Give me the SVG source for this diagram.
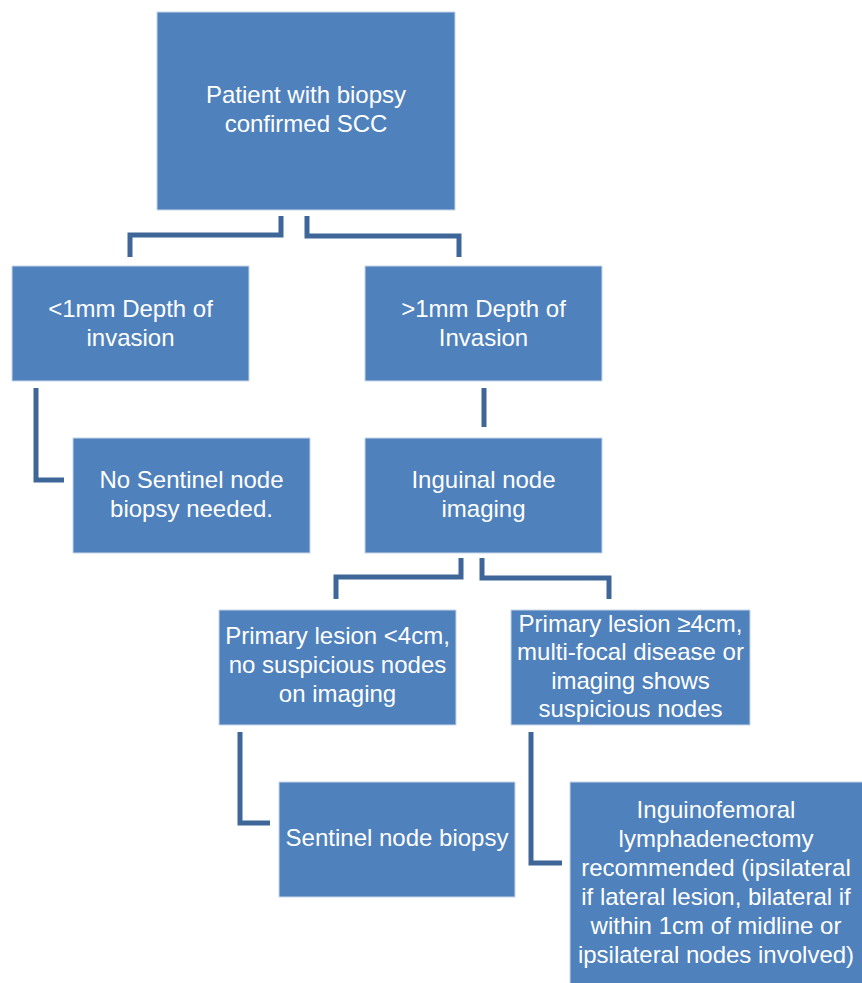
<svg xmlns="http://www.w3.org/2000/svg" width="862" height="983" viewBox="0 0 862 983">
<style>
.box{fill:#4f81bd;stroke:#c9d6e8;stroke-width:1}
.t{font-family:"Liberation Sans",Arial,sans-serif;font-size:24px;fill:#ffffff;text-anchor:middle}
.c{fill:none;stroke:#3e6699;stroke-width:5;stroke-linejoin:miter}
</style>
<rect width="862" height="983" fill="#ffffff"/>
<g id="connectors">
<path class="c" d="M281 216V235H130V257"/>
<path class="c" d="M307 216V236H459V257"/>
<path class="c" d="M36 388V480H64"/>
<path class="c" d="M484 388V427"/>
<path class="c" d="M461 558V577H336V599"/>
<path class="c" d="M482 558V578H609V599"/>
<path class="c" d="M240 732V823H270"/>
<path class="c" d="M531 732V863H562"/>
</g>
<g id="n1"><rect class="box" x="157" y="12" width="298" height="198"/>
<text class="t" x="306" y="103">Patient with biopsy</text><text class="t" x="306" y="132">confirmed SCC</text></g>
<g id="n2"><rect class="box" x="12" y="266" width="237" height="115"/>
<text class="t" x="130.5" y="317">&lt;1mm Depth of</text><text class="t" x="130.5" y="346">invasion</text></g>
<g id="n3"><rect class="box" x="365" y="266" width="237" height="115"/>
<text class="t" x="483.5" y="317">&gt;1mm Depth of</text><text class="t" x="483.5" y="346">Invasion</text></g>
<g id="n4"><rect class="box" x="73" y="438" width="237" height="115"/>
<text class="t" x="191.5" y="488">No Sentinel node</text><text class="t" x="191.5" y="517">biopsy needed.</text></g>
<g id="n5"><rect class="box" x="365" y="438" width="237" height="115"/>
<text class="t" x="483.5" y="488">Inguinal node</text><text class="t" x="483.5" y="517">imaging</text></g>
<g id="n6"><rect class="box" x="219" y="610" width="237" height="115"/>
<text class="t" x="337.5" y="644">Primary lesion &lt;4cm,</text><text class="t" x="337.5" y="673">no suspicious nodes</text><text class="t" x="337.5" y="702">on imaging</text></g>
<g id="n7"><rect class="box" x="511" y="610" width="239" height="115"/>
<text class="t" x="630.5" y="632">Primary lesion ≥4cm,</text><text class="t" x="630.5" y="660">multi-focal disease or</text><text class="t" x="630.5" y="689">imaging shows</text><text class="t" x="630.5" y="717">suspicious nodes</text></g>
<g id="n8"><rect class="box" x="279" y="782" width="236" height="115"/>
<text class="t" x="397" y="846">Sentinel node biopsy</text></g>
<g id="n9"><rect class="box" x="570" y="782" width="294" height="203"/>
<text class="t" x="716" y="818">Inguinofemoral</text><text class="t" x="716" y="847">lymphadenectomy</text><text class="t" x="716" y="876">recommended (ipsilateral</text><text class="t" x="716" y="905">if lateral lesion, bilateral if</text><text class="t" x="716" y="934">within 1cm of midline or</text><text class="t" x="716" y="963">ipsilateral nodes involved)</text></g>
</svg>
